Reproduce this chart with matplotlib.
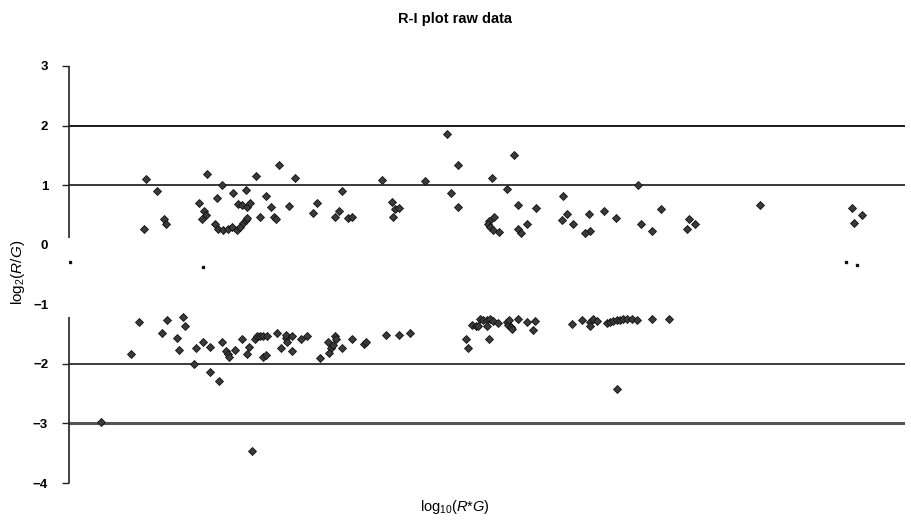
import matplotlib
matplotlib.use("Agg")
import matplotlib.pyplot as plt

plt.rcParams['font.family'] = ['Liberation Sans', 'DejaVu Sans']
plt.rcParams['mathtext.fontset'] = 'custom'
plt.rcParams['mathtext.rm'] = 'Liberation Sans'
plt.rcParams['mathtext.it'] = 'Liberation Sans:italic'

# upper group (log10(R*G), log2(R/G))
up_x = [2.385, 2.44, 2.375, 2.475, 2.485, 2.69, 2.765, 2.74, 2.65, 2.675, 2.685, 2.665,
        2.82, 2.885, 2.845, 2.865, 2.89, 2.905, 2.73, 2.745, 2.77, 2.795, 2.815, 2.84,
        2.855, 2.87, 2.885, 2.89, 2.935, 2.985, 3.01, 2.955, 3.025, 3.035, 3.05, 3.13,
        3.10, 3.22, 3.24, 3.365, 3.35, 3.33, 3.395, 3.415, 3.565, 3.615, 3.63, 3.65,
        3.62, 3.78, 3.89, 3.91, 3.945, 3.945, 4.225, 4.115, 4.19, 4.245, 4.335, 4.47,
        4.845, 5.455, 5.965, 5.915, 5.925, 4.125, 4.10, 4.095, 4.105, 4.12, 4.15, 4.245,
        4.29, 4.26, 4.465, 4.49, 4.52, 4.60, 4.605, 4.58, 4.675, 4.735, 4.86, 4.915,
        4.96, 5.10, 5.13, 5.09]
up_y = [1.11, 0.91, 0.27, 0.44, 0.35, 1.19, 1.00, 0.79, 0.70, 0.57, 0.50, 0.44,
        0.87, 0.92, 0.69, 0.67, 0.64, 0.70, 0.34, 0.27, 0.25, 0.27, 0.30, 0.25,
        0.30, 0.37, 0.42, 0.45, 1.16, 0.82, 0.64, 0.47, 0.47, 0.44, 1.33, 1.12,
        0.65, 0.54, 0.70, 0.91, 0.57, 0.47, 0.45, 0.47, 1.09, 0.72, 0.60, 0.62,
        0.47, 1.07, 1.86, 0.86, 1.33, 0.64, 1.51, 1.12, 0.94, 0.67, 0.62, 0.82,
        1.00, 0.67, 0.50, 0.62, 0.37, 0.47, 0.40, 0.34, 0.29, 0.25, 0.22, 0.27,
        0.34, 0.20, 0.42, 0.52, 0.35, 0.52, 0.23, 0.20, 0.57, 0.45, 0.35, 0.23,
        0.60, 0.44, 0.35, 0.27]

# lower group
lo_x = [2.35, 2.31, 2.16, 2.465, 2.49, 2.57, 2.58, 2.54, 2.55, 2.635, 2.625, 2.67,
        2.705, 2.705, 2.75, 2.765, 2.785, 2.795, 2.80, 2.83, 2.865, 2.89, 2.90, 2.915,
        2.93, 2.94, 2.955, 2.97, 2.99, 2.97, 2.985, 3.04, 3.06, 3.085, 3.09, 3.085,
        3.115, 3.115, 3.16, 3.19, 3.255, 3.295, 3.31, 3.32, 3.33, 3.335, 3.30, 3.365,
        3.415, 3.475, 3.485, 3.585, 3.65, 3.705, 3.985, 3.995, 4.015, 4.035, 4.045, 4.055,
        4.07, 4.09, 4.105, 4.12, 4.09, 4.145, 4.10, 4.19, 4.195, 4.21, 4.215, 4.20,
        4.245, 4.29, 4.33, 4.32, 4.515, 4.565, 4.605, 4.62, 4.64, 4.605, 4.69, 4.705,
        4.72, 4.74, 4.755, 4.77, 4.79, 4.815, 4.84, 4.915, 5.00, 4.74]
lo_y = [-1.29, -1.83, -2.97, -1.49, -1.26, -1.22, -1.36, -1.56, -1.76, -1.73, -2.01, -1.63,
        -1.71, -2.13, -2.28, -1.63, -1.78, -1.83, -1.88, -1.76, -1.58, -1.83, -1.71, -3.47,
        -1.59, -1.54, -1.53, -1.54, -1.54, -1.88, -1.85, -1.49, -1.73, -1.56, -1.63, -1.51,
        -1.53, -1.78, -1.59, -1.53, -1.90, -1.64, -1.73, -1.68, -1.54, -1.58, -1.81, -1.73,
        -1.59, -1.66, -1.63, -1.51, -1.51, -1.49, -1.58, -1.74, -1.34, -1.36, -1.37, -1.24,
        -1.26, -1.26, -1.24, -1.28, -1.36, -1.31, -1.58, -1.29, -1.34, -1.38, -1.41, -1.26,
        -1.24, -1.29, -1.28, -1.44, -1.33, -1.26, -1.29, -1.24, -1.28, -1.36, -1.31, -1.29,
        -1.28, -1.26, -1.26, -1.24, -1.24, -1.24, -1.26, -1.24, -1.24, -2.42]

# small remnant marks in the blank band
rem_x = [2.005, 2.67, 5.885, 5.94]
rem_y = [-0.29, -0.37, -0.29, -0.34]

y_ticks = [3, 2, 1, 0, -1, -2, -3, -4]
grid_levels = [2, 1, -2, -3]
grid_colors = ['#1a1a1a', '#2a2a2a', '#1a1a1a', '#555555']
grid_widths = [1.4, 1.3, 1.2, 2.2]

fig = plt.figure(figsize=(9.11, 5.21), dpi=100)
ax = fig.add_axes([69/911, 1-483/521, 836/911, 417/521])
ax.set_xlim(2.0, 6.18)
ax.set_ylim(-4, 3)

for lvl, c, w in zip(grid_levels, grid_colors, grid_widths):
    ax.axhline(lvl, color=c, lw=w, zorder=1)

ax.plot(up_x, up_y, linestyle='none', marker='D', markersize=4.4,
        markerfacecolor='#3a3a3a', markeredgecolor='#111111', markeredgewidth=0.6, zorder=3)
ax.plot(lo_x, lo_y, linestyle='none', marker='D', markersize=4.4,
        markerfacecolor='#3a3a3a', markeredgecolor='#111111', markeredgewidth=0.6, zorder=3)
ax.plot(rem_x, rem_y, linestyle='none', marker='s', markersize=2,
        color='#111111', zorder=3)

for s in ['top', 'right', 'bottom', 'left']:
    ax.spines[s].set_visible(False)
# broken left axis line
ax.vlines(2.0, 0.12, 3, color='#222222', lw=1.2, clip_on=False)
ax.vlines(2.0, -4, -1.22, color='#222222', lw=1.2, clip_on=False)

ax.set_xticks([])
ax.set_yticks(y_ticks)
ax.set_yticklabels([str(v).replace('-', '\u2212') for v in y_ticks],
                   fontsize=9.5, fontweight='bold')
ax.tick_params(axis='y', length=5, width=1, color='#222222', pad=10)
for t, v in zip(ax.yaxis.get_major_ticks(), y_ticks):
    if v in (0, -1):
        t.tick1line.set_visible(False)

fig.text(455/911, 1-19/521, 'R-I plot raw data', ha='center', va='center',
         fontsize=10.5, fontweight='bold')
fig.text(18/911, 1-272/521, r'log$_2$($\mathit{R/G}$)', ha='center', va='center',
         rotation=90, fontsize=11)
fig.text(455/911, 1-507/521, r'log$_{10}$($\mathit{R}$*$\mathit{G}$)', ha='center',
         va='center', fontsize=10.5)

fig.savefig('out.png', dpi=100)
